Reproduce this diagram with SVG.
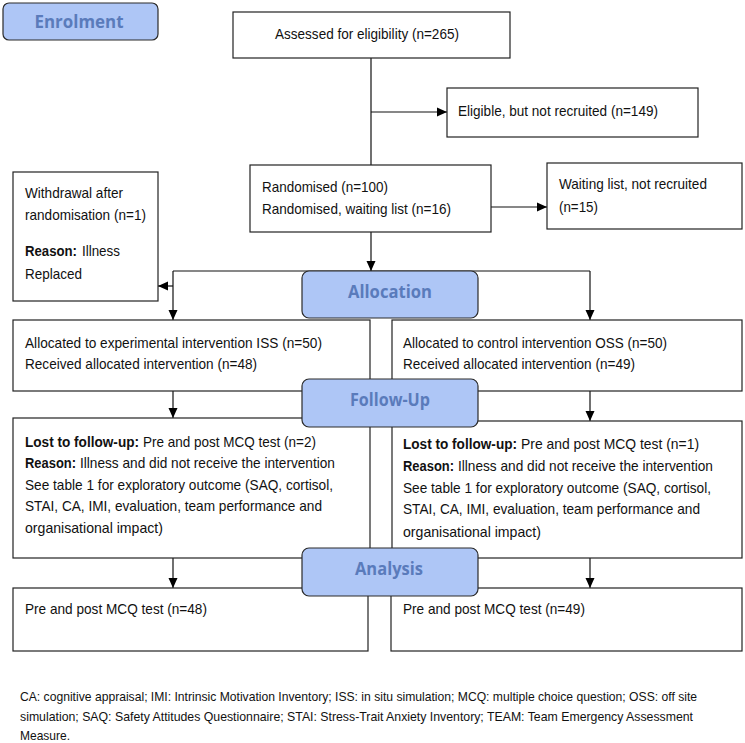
<svg xmlns="http://www.w3.org/2000/svg" width="745" height="743" viewBox="0 0 745 743">
<style>
.box{fill:#fff;stroke:#222;stroke-width:1.2}
.phase{fill:#aec6f6;stroke:#2a2a2a;stroke-width:1.2}
.pt{font-family:"Open Sans","Noto Sans",sans-serif;font-weight:bold;font-size:17px;fill:#5a7bbb;text-anchor:middle}
.t{font-family:"Liberation Sans",Arial,sans-serif;font-size:15px;fill:#111}
.f{font-family:"Liberation Sans",Arial,sans-serif;font-size:13px;fill:#111}
.b{font-weight:bold}
.c{stroke:#111;stroke-width:1.2;fill:none}
</style>
<defs>
<marker id="ah" markerUnits="userSpaceOnUse" markerWidth="10" markerHeight="10" refX="10" refY="5" orient="auto">
<path d="M0,0.5 L10,5 L0,9.5 z" fill="#000"/>
</marker>
</defs>

<g id="connectors">
<line class="c" x1="371" y1="58" x2="371" y2="165"/>
<line class="c" x1="371" y1="112" x2="447" y2="112" marker-end="url(#ah)"/>
<line class="c" x1="491" y1="207" x2="547" y2="207" marker-end="url(#ah)"/>
<line class="c" x1="371" y1="232" x2="371" y2="271" marker-end="url(#ah)"/>
<line class="c" x1="173" y1="271" x2="590" y2="271"/>
<line class="c" x1="173" y1="271" x2="173" y2="320" marker-end="url(#ah)"/>
<line class="c" x1="173" y1="286" x2="158" y2="286" marker-end="url(#ah)"/>
<line class="c" x1="590" y1="271" x2="590" y2="320" marker-end="url(#ah)"/>
<line class="c" x1="173" y1="391" x2="173" y2="418" marker-end="url(#ah)"/>
<line class="c" x1="590" y1="391" x2="590" y2="421" marker-end="url(#ah)"/>
<line class="c" x1="173" y1="558" x2="173" y2="588" marker-end="url(#ah)"/>
<line class="c" x1="590" y1="558" x2="590" y2="588" marker-end="url(#ah)"/>
</g>

<g id="assessed">
<rect class="box" x="233" y="12" width="277" height="46"/>
<text class="t" transform="translate(275,39) scale(0.9,1)" textLength="204.4" lengthAdjust="spacingAndGlyphs">Assessed for eligibility (n=265)</text>
</g>
<g id="eligible">
<rect class="box" x="447" y="88" width="251" height="49"/>
<text class="t" transform="translate(458,116) scale(0.9,1)" textLength="222.2" lengthAdjust="spacingAndGlyphs">Eligible, but not recruited (n=149)</text>
</g>
<g id="randomised">
<rect class="box" x="250" y="165" width="241" height="67"/>
<text class="t" transform="translate(262,192) scale(0.9,1)" textLength="140" lengthAdjust="spacingAndGlyphs">Randomised (n=100)</text>
<text class="t" transform="translate(262,214) scale(0.9,1)" textLength="210" lengthAdjust="spacingAndGlyphs">Randomised, waiting list (n=16)</text>
</g>
<g id="waiting">
<rect class="box" x="547" y="163" width="195" height="66"/>
<text class="t" transform="translate(559,189) scale(0.9,1)" textLength="164.4" lengthAdjust="spacingAndGlyphs">Waiting list, not recruited</text>
<text class="t" transform="translate(559,212) scale(0.9,1)" textLength="43.3" lengthAdjust="spacingAndGlyphs">(n=15)</text>
</g>
<g id="withdrawal">
<rect class="box" x="13" y="172" width="145" height="129"/>
<text class="t" transform="translate(25,198) scale(0.9,1)" textLength="108.9" lengthAdjust="spacingAndGlyphs">Withdrawal after</text>
<text class="t" transform="translate(25,220) scale(0.9,1)" textLength="134.4" lengthAdjust="spacingAndGlyphs">randomisation (n=1)</text>
<text class="t b" transform="translate(25,256) scale(0.9,1)" textLength="57.8" lengthAdjust="spacingAndGlyphs">Reason:</text>
<text class="t" transform="translate(82,256) scale(0.9,1)" textLength="42.2" lengthAdjust="spacingAndGlyphs">Illness</text>
<text class="t" transform="translate(25,279) scale(0.9,1)" textLength="63.3" lengthAdjust="spacingAndGlyphs">Replaced</text>
</g>
<g id="alloc-left">
<rect class="box" x="13" y="320" width="357" height="71"/>
<text class="t" transform="translate(25,348) scale(0.9,1)" textLength="330" lengthAdjust="spacingAndGlyphs">Allocated to experimental intervention ISS (n=50)</text>
<text class="t" transform="translate(25,369) scale(0.9,1)" textLength="257.8" lengthAdjust="spacingAndGlyphs">Received allocated intervention (n=48)</text>
</g>
<g id="alloc-right">
<rect class="box" x="392" y="320" width="350" height="71"/>
<text class="t" transform="translate(403,348) scale(0.9,1)" textLength="293.3" lengthAdjust="spacingAndGlyphs">Allocated to control intervention OSS (n=50)</text>
<text class="t" transform="translate(403,369) scale(0.9,1)" textLength="257.8" lengthAdjust="spacingAndGlyphs">Received allocated intervention (n=49)</text>
</g>
<g id="lost-left">
<rect class="box" x="13" y="418" width="357" height="140"/>
<text class="t b" transform="translate(25,447) scale(0.9,1)" textLength="126.7" lengthAdjust="spacingAndGlyphs">Lost to follow-up:</text>
<text class="t" transform="translate(143,447) scale(0.9,1)" textLength="192.2" lengthAdjust="spacingAndGlyphs">Pre and post MCQ test (n=2)</text>
<text class="t b" transform="translate(25,468) scale(0.9,1)" textLength="56.7" lengthAdjust="spacingAndGlyphs">Reason:</text>
<text class="t" transform="translate(80,468) scale(0.9,1)" textLength="283.3" lengthAdjust="spacingAndGlyphs">Illness and did not receive the intervention</text>
<text class="t" transform="translate(25,490) scale(0.9,1)" textLength="342.2" lengthAdjust="spacingAndGlyphs">See table 1 for exploratory outcome (SAQ, cortisol,</text>
<text class="t" transform="translate(25,511) scale(0.9,1)" textLength="330" lengthAdjust="spacingAndGlyphs">STAI, CA, IMI, evaluation, team performance and</text>
<text class="t" transform="translate(25,533) scale(0.9,1)" textLength="153.3" lengthAdjust="spacingAndGlyphs">organisational impact)</text>
</g>
<g id="lost-right">
<rect class="box" x="392" y="421" width="350" height="137"/>
<text class="t b" transform="translate(403,449) scale(0.9,1)" textLength="126.7" lengthAdjust="spacingAndGlyphs">Lost to follow-up:</text>
<text class="t" transform="translate(521,449) scale(0.9,1)" textLength="197.8" lengthAdjust="spacingAndGlyphs">Pre and post MCQ test (n=1)</text>
<text class="t b" transform="translate(403,471) scale(0.9,1)" textLength="56.7" lengthAdjust="spacingAndGlyphs">Reason:</text>
<text class="t" transform="translate(458,471) scale(0.9,1)" textLength="283.3" lengthAdjust="spacingAndGlyphs">Illness and did not receive the intervention</text>
<text class="t" transform="translate(403,493) scale(0.9,1)" textLength="342.2" lengthAdjust="spacingAndGlyphs">See table 1 for exploratory outcome (SAQ, cortisol,</text>
<text class="t" transform="translate(403,514) scale(0.9,1)" textLength="330" lengthAdjust="spacingAndGlyphs">STAI, CA, IMI, evaluation, team performance and</text>
<text class="t" transform="translate(403,537) scale(0.9,1)" textLength="153.3" lengthAdjust="spacingAndGlyphs">organisational impact)</text>
</g>
<g id="analysis-left">
<rect class="box" x="13" y="588" width="355" height="63"/>
<text class="t" transform="translate(25,614) scale(0.9,1)" textLength="202.2" lengthAdjust="spacingAndGlyphs">Pre and post MCQ test (n=48)</text>
</g>
<g id="analysis-right">
<rect class="box" x="391" y="588" width="351" height="63"/>
<text class="t" transform="translate(403,614) scale(0.9,1)" textLength="202.2" lengthAdjust="spacingAndGlyphs">Pre and post MCQ test (n=49)</text>
</g>

<g id="enrolment">
<rect class="phase" x="3" y="3" width="155" height="37" rx="6"/>
<text class="pt" x="79" y="28" textLength="89" lengthAdjust="spacingAndGlyphs">Enrolment</text>
</g>
<g id="allocation">
<rect class="phase" x="302" y="271" width="176" height="47" rx="7"/>
<text class="pt" x="390" y="298" textLength="84" lengthAdjust="spacingAndGlyphs">Allocation</text>
</g>
<g id="follow-up">
<rect class="phase" x="302" y="379" width="176" height="48" rx="7"/>
<text class="pt" x="390" y="406" textLength="80" lengthAdjust="spacingAndGlyphs">Follow-Up</text>
</g>
<g id="analysis">
<rect class="phase" x="302" y="548" width="176" height="48" rx="7"/>
<text class="pt" x="389" y="575" textLength="68" lengthAdjust="spacingAndGlyphs">Analysis</text>
</g>

<g id="footnote">
<text class="f" transform="translate(20,701) scale(0.85,1)" textLength="796.5" lengthAdjust="spacingAndGlyphs">CA: cognitive appraisal; IMI: Intrinsic Motivation Inventory; ISS: in situ simulation; MCQ: multiple choice question; OSS: off site</text>
<text class="f" transform="translate(20,721) scale(0.85,1)" textLength="791.8" lengthAdjust="spacingAndGlyphs">simulation; SAQ: Safety Attitudes Questionnaire; STAI: Stress-Trait Anxiety Inventory; TEAM: Team Emergency Assessment</text>
<text class="f" transform="translate(20,740) scale(0.85,1)" textLength="58.8" lengthAdjust="spacingAndGlyphs">Measure.</text>
</g>
</svg>
